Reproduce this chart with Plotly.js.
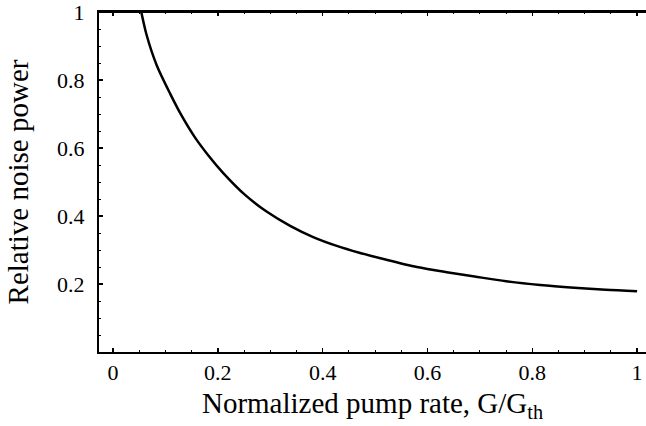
<!DOCTYPE html>
<html>
<head>
<meta charset="utf-8">
<script src="https://cdn.plot.ly/plotly-3.0.1.min.js"></script>
<style>html,body{margin:0;padding:0;background:#fff;}#chart{width:646px;height:426px;}</style>
</head>
<body>
<div id="chart"></div>
<script>
const pumpRate = [0.054, 0.064, 0.083, 0.109, 0.131, 0.156, 0.182, 0.21, 0.252, 0.293, 0.338, 0.382, 0.427, 0.47, 0.52, 0.58, 0.64, 0.69, 0.75, 0.815, 0.88, 0.94, 1.0];
const noisePower = [1.0, 0.933, 0.845, 0.76, 0.695, 0.632, 0.578, 0.527, 0.462, 0.413, 0.371, 0.338, 0.312, 0.292, 0.272, 0.250, 0.234, 0.222, 0.208, 0.197, 0.189, 0.183, 0.179];
const xTickVals = [0, 0.2, 0.4, 0.6, 0.8, 1];
const xTickText = ["0", "0.2", "0.4", "0.6", "0.8", "1"];
const yTickVals = [0.2, 0.4, 0.6, 0.8, 1];
const yTickText = ["0.2", "0.4", "0.6", "0.8", "1"];

const font = {family: "Liberation Serif, Times New Roman, serif", color: "#000"};
const xRange = [-0.0267, 1.017];
const minorStyle = {dtick: 0.05, tick0: 0, ticks: "inside", ticklen: 2, tickwidth: 1, tickcolor: "#000", showgrid: false};

Plotly.newPlot("chart", [{
  x: pumpRate, y: noisePower, type: "scatter", mode: "lines",
  line: {color: "#000", width: 2.5, shape: "spline", smoothing: 0.8},
  hoverinfo: "skip", cliponaxis: false
}], {
  width: 646, height: 426,
  margin: {l: 99, r: 0, t: 12, b: 74},
  paper_bgcolor: "#fff", plot_bgcolor: "#fff",
  showlegend: false,
  font: font,
  shapes: [{
    type: "line", xref: "paper", yref: "paper", x0: 0, x1: 1, y0: 1, y1: 1,
    line: {color: "#000", width: 2}, layer: "above"
  }],
  xaxis: {
    range: xRange,
    showgrid: false, zeroline: false,
    showline: true, linecolor: "#000", linewidth: 2,
    mirror: "allticks",
    ticks: "inside", ticklen: 4, tickwidth: 1.5, tickcolor: "#000",
    tickvals: xTickVals, ticktext: xTickText,
    tickfont: {family: font.family, size: 22, color: "#000"},
    ticklabelstandoff: 0,
    minor: minorStyle,
    title: {text: "Normalized pump rate, G/G<sub>th</sub>", font: {family: font.family, size: 29, color: "#000"}, standoff: 8}
  },
  yaxis: {
    range: [0, 1],
    showgrid: false, zeroline: false,
    showline: true, linecolor: "#000", linewidth: 2,
    mirror: false,
    ticks: "inside", ticklen: 4, tickwidth: 1.5, tickcolor: "#000",
    tickvals: yTickVals, ticktext: yTickText,
    tickfont: {family: font.family, size: 22, color: "#000"},
    ticklabelstandoff: 8,
    ticklabeloverflow: "allow",
    minor: minorStyle,
    title: {text: "Relative noise power", font: {family: font.family, size: 29, color: "#000"}, standoff: 20}
  }
}, {staticPlot: true, displayModeBar: false});
</script>
</body>
</html>
